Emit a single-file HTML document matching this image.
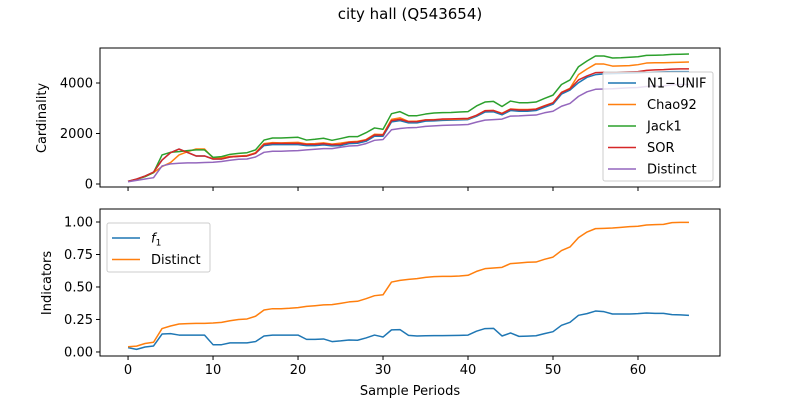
<!DOCTYPE html>
<html><head><meta charset="utf-8"><style>
body{margin:0;background:#fff}
svg{display:block;font-family:"DejaVu Sans","Liberation Sans",sans-serif}
</style></head><body>
<svg id="c" width="800" height="400" viewBox="0 0 800 400">
<text x="410" y="19" text-anchor="middle" font-size="15">city hall (Q543654)</text>
</svg>
<script>
const periods = Array.from({length:67},(_,i)=>i);
const n1Unif = [105,195,315,470,950,1240,1385,1250,1110,1110,990,990,1070,1095,1110,1215,1520,1560,1560,1560,1560,1520,1520,1550,1510,1520,1600,1615,1690,1890,1890,2460,2510,2420,2420,2490,2500,2520,2530,2540,2550,2680,2850,2860,2740,2910,2880,2880,2910,3040,3160,3560,3720,4010,4225,4330,4360,4370,4380,4390,4400,4420,4430,4440,4450,4450,4450];
const chao92 = [105,190,300,450,690,850,1150,1280,1385,1385,1030,1040,1090,1110,1130,1240,1600,1640,1630,1640,1650,1590,1600,1630,1580,1620,1670,1690,1760,1970,1960,2560,2620,2480,2490,2540,2550,2560,2560,2570,2580,2720,2905,2910,2800,2970,2950,2950,2970,3100,3220,3630,3790,4330,4555,4750,4750,4670,4680,4690,4725,4790,4800,4800,4810,4820,4830];
const jack1 = [105,185,290,450,1150,1255,1280,1320,1350,1350,1056,1085,1175,1215,1240,1350,1740,1820,1820,1835,1850,1740,1770,1810,1730,1800,1875,1875,2030,2220,2165,2785,2865,2705,2705,2770,2810,2825,2830,2850,2865,3090,3245,3270,3070,3285,3220,3220,3245,3390,3520,3940,4120,4645,4870,5070,5070,4990,5000,5020,5040,5095,5100,5110,5135,5140,5150];
const sor = [105,195,315,470,950,1240,1385,1250,1110,1110,990,990,1070,1095,1110,1215,1570,1610,1610,1610,1610,1570,1570,1600,1560,1570,1650,1665,1740,1940,1940,2510,2560,2470,2470,2535,2540,2575,2580,2590,2600,2720,2900,2910,2790,2960,2930,2930,2960,3090,3210,3620,3770,4120,4280,4410,4420,4420,4430,4440,4450,4500,4520,4530,4550,4560,4560];
const distinctTop = [90,145,200,250,715,795,820,835,835,850,860,890,940,980,990,1070,1255,1295,1295,1310,1320,1350,1375,1400,1400,1455,1505,1520,1600,1730,1760,2150,2200,2230,2240,2280,2300,2320,2330,2340,2355,2450,2530,2550,2570,2690,2700,2720,2730,2820,2880,3080,3190,3470,3650,3750,3760,3770,3790,3810,3820,3860,3870,3880,3930,3940,3940];
const f1 = [0.033,0.02,0.038,0.046,0.138,0.141,0.13,0.13,0.13,0.13,0.056,0.056,0.07,0.07,0.07,0.08,0.123,0.13,0.13,0.13,0.13,0.097,0.097,0.1,0.08,0.085,0.092,0.09,0.108,0.13,0.115,0.17,0.172,0.128,0.123,0.125,0.126,0.126,0.127,0.128,0.13,0.16,0.18,0.182,0.123,0.146,0.12,0.122,0.125,0.141,0.156,0.205,0.228,0.282,0.295,0.315,0.31,0.292,0.292,0.292,0.295,0.3,0.297,0.297,0.287,0.285,0.282];
const distinctFrac = [0.04,0.045,0.065,0.075,0.18,0.2,0.215,0.218,0.22,0.22,0.223,0.228,0.24,0.25,0.254,0.275,0.323,0.333,0.333,0.336,0.341,0.351,0.356,0.362,0.364,0.374,0.385,0.39,0.41,0.433,0.44,0.538,0.551,0.559,0.564,0.574,0.58,0.582,0.582,0.585,0.59,0.62,0.641,0.646,0.651,0.68,0.685,0.69,0.692,0.713,0.73,0.78,0.808,0.88,0.923,0.949,0.951,0.954,0.959,0.964,0.967,0.977,0.98,0.982,0.995,0.997,0.997];
const xTicks = [0,10,20,30,40,50,60];
const topYTicks = [0,2000,4000];
const botYTicks = [0,0.25,0.5,0.75,1.0];
const botYLabels = ["0.00","0.25","0.50","0.75","1.00"];

const NS="http://www.w3.org/2000/svg";
const svg=document.getElementById('c');
function mk(tag,attrs,parent){const e=document.createElementNS(NS,tag);for(const k in attrs)e.setAttribute(k,attrs[k]);(parent||svg).appendChild(e);return e;}
const X0=100,X1=720,xmin=-3.3,xmax=69.65;
const sx=v=>X0+(v-xmin)/(xmax-xmin)*(X1-X0);
const T0=48,T1=187,tmin=-119,tmax=5386;
const syT=v=>T1-(v-tmin)/(tmax-tmin)*(T1-T0);
const B0=209,B1=356,bmin=-0.031,bmax=1.1;
const syB=v=>B1-(v-bmin)/(bmax-bmin)*(B1-B0);
const colors={blue:'#1f77b4',orange:'#ff7f0e',green:'#2ca02c',red:'#d62728',purple:'#9467bd'};
const FS=13;

function line(ys,sy,color,name){
  const d=periods.map((p,i)=>(i?'L':'M')+sx(p).toFixed(2)+','+sy(ys[i]).toFixed(2)).join('');
  const e=mk('path',{d:d,fill:'none',stroke:color,'stroke-width':1.5,'stroke-linejoin':'round'});
  
  
}
function frame(y0,y1,name){
  const e=mk('rect',{x:X0,y:y0,width:X1-X0,height:y1-y0,fill:'none',stroke:'#000','stroke-width':1});
  
  
}
line(n1Unif,syT,colors.blue,'n1-unif-line');
line(chao92,syT,colors.orange,'chao92-line');
line(jack1,syT,colors.green,'jack1-line');
line(sor,syT,colors.red,'sor-line');
line(distinctTop,syT,colors.purple,'distinct-top-line');
line(f1,syB,colors.blue,'f1-line');
line(distinctFrac,syB,colors.orange,'distinct-bottom-line');
frame(T0,T1,'top-plot-frame');
frame(B0,B1,'bottom-plot-frame');

xTicks.forEach(t=>{
  mk('line',{x1:sx(t),x2:sx(t),y1:T1,y2:T1+4,stroke:'#000','stroke-width':1});
  mk('line',{x1:sx(t),x2:sx(t),y1:B1,y2:B1+4,stroke:'#000','stroke-width':1});
  const tx=mk('text',{x:sx(t),y:B1+18,'text-anchor':'middle','font-size':FS});
  tx.textContent=t;
  
  
});
topYTicks.forEach(t=>{
  mk('line',{x1:X0-4,x2:X0,y1:syT(t),y2:syT(t),stroke:'#000','stroke-width':1});
  const tx=mk('text',{x:X0-7,y:syT(t)+4.5,'text-anchor':'end','font-size':FS});
  tx.textContent=t;
  
  
});
botYTicks.forEach((t,i)=>{
  mk('line',{x1:X0-4,x2:X0,y1:syB(t),y2:syB(t),stroke:'#000','stroke-width':1});
  const tx=mk('text',{x:X0-7,y:syB(t)+4.5,'text-anchor':'end','font-size':FS});
  tx.textContent=botYLabels[i];
  
  
});
let a=mk('text',{x:410,y:395,'text-anchor':'middle','font-size':FS});
a.textContent='Sample Periods';


a=mk('text',{x:0,y:0,'text-anchor':'middle','font-size':FS,transform:'translate(46,118) rotate(-90)'});
a.textContent='Cardinality';


a=mk('text',{x:0,y:0,'text-anchor':'middle','font-size':FS,transform:'translate(51,283) rotate(-90)'});
a.textContent='Indicators';



function legend(x,y,w,h,first,items,name){
  const g=mk('g',{});
  
  
  mk('rect',{x:x,y:y,width:w,height:h,rx:2,fill:'#fff','fill-opacity':0.8,stroke:'#ccc','stroke-width':1},g);
  items.forEach((it,i)=>{
    const cy=y+first+i*21.5;
    mk('line',{x1:x+5,x2:x+33,y1:cy,y2:cy,stroke:it[1],'stroke-width':1.5},g);
    const t=mk('text',{x:x+44,y:cy+4.5,'font-size':13,fill:'#000'},g);
    t.innerHTML=it[0];
    
    
  });
}
legend(603,72,110,109,11,[['N1\u2212UNIF',colors.blue],['Chao92',colors.orange],['Jack1',colors.green],['SOR',colors.red],['Distinct',colors.purple]],'top-legend');
legend(107,223,103,49,15,[['<tspan font-style="italic">f</tspan><tspan font-size="9" dy="3">1</tspan>',colors.blue],['Distinct',colors.orange]],'bottom-legend');
</script>
</body></html>
